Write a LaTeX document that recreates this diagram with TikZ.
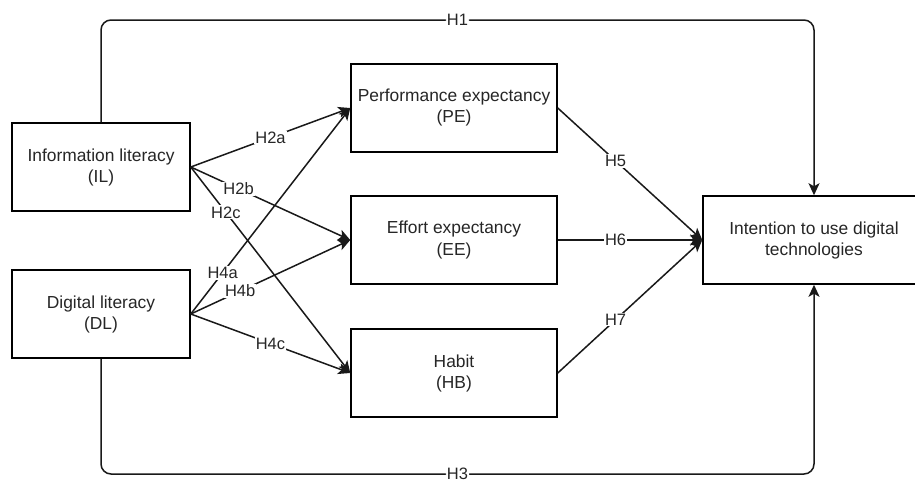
\documentclass[tikz,border=0pt]{standalone}
\usepackage{fontspec}
\setmainfont{Liberation Sans}
\usetikzlibrary{arrows.meta}
\begin{document}
\begin{tikzpicture}[x=1pt,y=-1pt,
  box/.style={draw=black,line width=1.5pt,fill=white,align=center,inner sep=0pt,
    font=\fontsize{17.4}{21}\selectfont,text=black!85},
  arr/.style={draw=black!90,line width=1.5pt,-{Stealth[length=12pt,width=11pt,inset=3pt]}},
  lbl/.style={fill=white,inner sep=1pt,font=\fontsize{16.5}{19}\selectfont,text=black!85}]
\clip (0,0) rectangle (915,485);
\fill[white] (0,0) rectangle (915,485);
\node[box,minimum width=178pt,minimum height=88pt] (IL) at (101,167) {Information literacy\\(IL)};
\node[box,minimum width=178pt,minimum height=88pt] (DL) at (101,314) {Digital literacy\\(DL)};
\node[box,minimum width=206pt,minimum height=88pt] (PE) at (454,108) {Performance expectancy\\(PE)};
\node[box,minimum width=206pt,minimum height=88pt] (EE) at (454,240) {Effort expectancy\\(EE)};
\node[box,minimum width=206pt,minimum height=88pt] (HB) at (454,373) {Habit\\(HB)};
\node[box,minimum width=222pt,minimum height=88pt] (IT) at (814,240) {Intention to use digital\\technologies};
\coordinate (t1) at (101,20);
\coordinate (b1) at (101,474);
\draw[arr,rounded corners=10pt] (IL.north) -- (t1) -| node[lbl,pos=0.25]{H1} (IT.north);
\draw[arr,rounded corners=10pt] (DL.south) -- (b1) -| node[lbl,pos=0.25]{H3} (IT.south);
\draw[arr] (IL.east) -- node[lbl,pos=0.5]{H2a} (PE.west);
\draw[arr] (IL.east) -- node[lbl,pos=0.3]{H2b} (EE.west);
\draw[arr] (IL.east) -- node[lbl,pos=0.22]{H2c} (HB.west);
\draw[arr] (DL.east) -- node[lbl,pos=0.2]{H4a} (PE.west);
\draw[arr] (DL.east) -- node[lbl,pos=0.31]{H4b} (EE.west);
\draw[arr] (DL.east) -- node[lbl,pos=0.5]{H4c} (HB.west);
\draw[arr] (PE.east) -- node[lbl,pos=0.4]{H5} (IT.west);
\draw[arr] (EE.east) -- node[lbl,pos=0.4]{H6} (IT.west);
\draw[arr] (HB.east) -- node[lbl,pos=0.4]{H7} (IT.west);
\end{tikzpicture}
\end{document}
